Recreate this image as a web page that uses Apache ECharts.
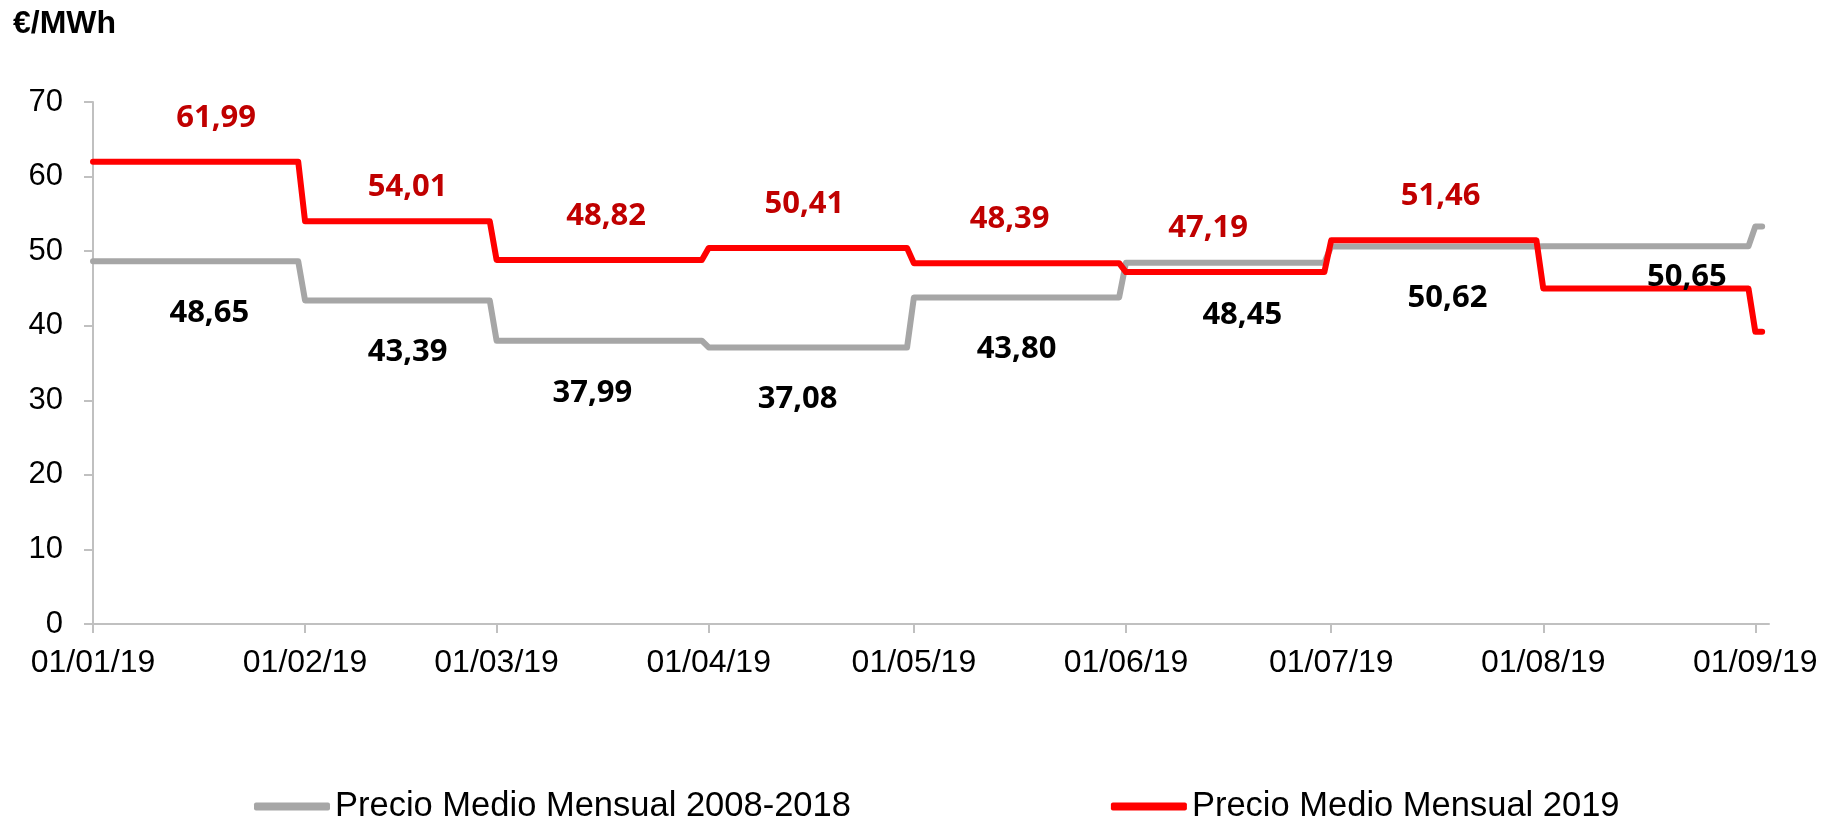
<!DOCTYPE html>
<html>
<head>
<meta charset="utf-8">
<script src="https://cdn.jsdelivr.net/npm/echarts@6/dist/echarts.min.js"></script>
<style>
html,body{margin:0;padding:0;background:#fff;}
#chart{width:1840px;height:824px;}
</style>
</head>
<body>
<div id="chart"></div>
<script>
// ---- data ----
const tickDates = ['2019-01-01','2019-02-01','2019-03-01','2019-04-01','2019-05-01','2019-06-01','2019-07-01','2019-08-01','2019-09-01'];
const monthStart = ['2019-01-01','2019-02-01','2019-03-01','2019-04-01','2019-05-01','2019-06-01','2019-07-01','2019-08-01','2019-09-01'];
const monthEnd = ['2019-01-31','2019-02-28','2019-03-31','2019-04-30','2019-05-31','2019-06-30','2019-07-31','2019-08-31','2019-09-02'];
const avg2008_2018 = [48.65, 43.39, 37.99, 37.08, 43.80, 48.45, 50.62, 50.65, 53.3];
const avg2019 = [61.99, 54.01, 48.82, 50.41, 48.39, 47.19, 51.46, 45.0, 39.2];
const labelDays2008_2018 = ['2019-01-18','2019-02-16','2019-03-15','2019-04-14','2019-05-16','2019-06-18','2019-07-18','2019-08-22'];
const labelDays2019 = ['2019-01-19','2019-02-16','2019-03-17','2019-04-15','2019-05-15','2019-06-13','2019-07-17'];
const seriesNames = ['Precio Medio Mensual 2008-2018', 'Precio Medio Mensual 2019'];
const axisMin = '2019-01-01';
const axisMax = '2019-09-03';

function ts(s){ const p = s.split('-').map(Number); return Date.UTC(p[0], p[1]-1, p[2]); }
function stepData(vals){
  const out = [];
  vals.forEach((v,i)=>{ out.push([ts(monthStart[i]), v]); out.push([ts(monthEnd[i]), v]); });
  return out;
}
function fmt(v){ return v.toFixed(2).replace('.', ','); }
function fmtDate(t){
  const d = new Date(t);
  const p = n => String(n).padStart(2,'0');
  return p(d.getUTCDate()) + '/' + p(d.getUTCMonth()+1) + '/' + p(d.getUTCFullYear()%100);
}

const GRAY = '#A6A6A6', RED = '#FF0000', DARKRED = '#C00000';
const AXIS_FONT = "'Liberation Sans', Arial, sans-serif";
const LABEL_FONT = "'Open Sans', 'Noto Sans', sans-serif";

const labelGrayData = labelDays2008_2018.map((d,i)=>({
  value:[ts(d), avg2008_2018[i]],
  label:{offset:[0, i === 7 ? 31 : 52]}
}));
const labelRedData = labelDays2019.map((d,i)=>({
  value:[ts(d), avg2019[i]],
  label:{offset:[0, i === 1 ? -34 : -44]}
}));

const labelStyle = {show:true, position:'inside', fontFamily:LABEL_FONT, fontWeight:'bold', fontSize:31, opacity:1, textBorderWidth:0, formatter:p=>fmt(p.value[1])};

const chart = echarts.init(document.getElementById('chart'), null, {renderer:'canvas'});
chart.setOption({
  animation:false,
  backgroundColor:'#fff',
  title:{
    text:'€/MWh', left:8, top:3,
    textStyle:{fontFamily:AXIS_FONT, fontWeight:'bold', fontSize:32, color:'#000'}
  },
  grid:{left:93, right:71, top:102, bottom:200, outerBoundsMode:'none', containLabel:false},
  legend:{
    data:seriesNames,
    left:249, top:784,
    itemWidth:76, itemHeight:8, itemGap:260,
    icon:'roundRect',
    textStyle:{fontFamily:AXIS_FONT, fontSize:34.5, color:'#000'}
  },
  xAxis:{
    type:'value', min:ts(axisMin), max:ts(axisMax),
    axisLine:{lineStyle:{color:'#C0C0C0', width:2}},
    axisTick:{show:true, length:9, lineStyle:{color:'#C0C0C0', width:2}, customValues:tickDates.map(ts)},
    axisLabel:{customValues:tickDates.map(ts), formatter:v=>fmtDate(v), fontFamily:AXIS_FONT, fontSize:32, color:'#000', margin:23, hideOverlap:false},
    splitLine:{show:false}
  },
  yAxis:{
    type:'value', min:0, max:70, interval:10,
    axisLine:{show:true, lineStyle:{color:'#C0C0C0', width:2}},
    axisTick:{show:true, length:9, lineStyle:{color:'#C0C0C0', width:2}},
    axisLabel:{fontFamily:AXIS_FONT, fontSize:31, color:'#000', margin:30},
    splitLine:{show:false}
  },
  series:[
    {
      name:seriesNames[0], type:'line', data:stepData(avg2008_2018),
      showSymbol:false, symbol:'none', color:GRAY,
      lineStyle:{color:GRAY, width:6, cap:'round', join:'round'},
      z:2
    },
    {
      name:seriesNames[1], type:'line', data:stepData(avg2019),
      showSymbol:false, symbol:'none', color:RED,
      lineStyle:{color:RED, width:6, cap:'round', join:'round'},
      z:3
    },
    {
      type:'scatter', data:labelGrayData, symbolSize:0, silent:true, z:5,
      itemStyle:{opacity:1},
      label:Object.assign({}, labelStyle, {color:'#000'})
    },
    {
      type:'scatter', data:labelRedData, symbolSize:0, silent:true, z:5,
      itemStyle:{opacity:1},
      label:Object.assign({}, labelStyle, {color:DARKRED})
    }
  ]
});
</script>
</body>
</html>
